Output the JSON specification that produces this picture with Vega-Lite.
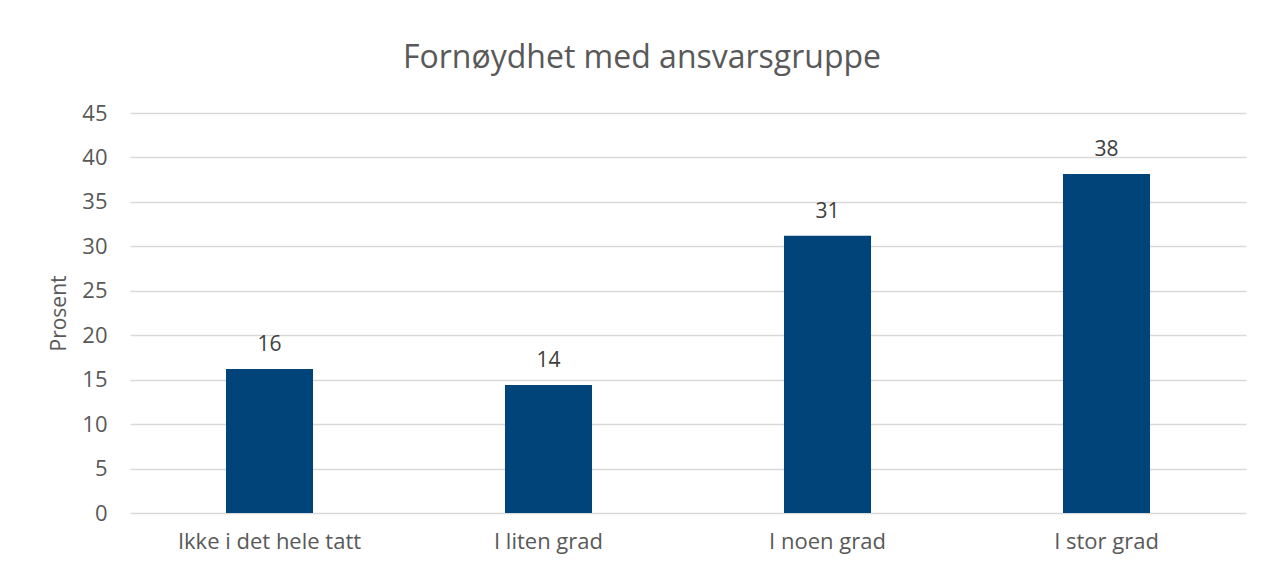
{
  "$schema": "https://vega.github.io/schema/vega-lite/v6.json",
  "width": 1116,
  "height": 400,
  "autosize": {"type": "none"},
  "padding": {"left": 130, "top": 113, "right": 17, "bottom": 56},
  "background": "white",
  "title": {
    "text": "Fornøydhet med ansvarsgruppe",
    "font": "Open Sans",
    "fontSize": 32,
    "fontWeight": "normal",
    "color": "#595959",
    "anchor": "middle",
    "baseline": "alphabetic",
    "dx": -46,
    "offset": 2
  },
  "data": {
    "values": [
      {"kategori": "Ikke i det hele tatt", "verdi": 16.2},
      {"kategori": "I liten grad", "verdi": 14.4},
      {"kategori": "I noen grad", "verdi": 31.2},
      {"kategori": "I stor grad", "verdi": 38.15}
    ]
  },
  "encoding": {
    "x": {
      "field": "kategori",
      "type": "nominal",
      "sort": null,
      "scale": {"paddingInner": 0.688, "paddingOuter": 0.344},
      "axis": {
        "title": null,
        "labelAngle": 0,
        "labelFont": "Open Sans",
        "labelFontSize": 22,
        "labelColor": "#595959",
        "labelPadding": 18,
        "labelLimit": 0,
        "ticks": false,
        "domain": false,
        "grid": false
      }
    },
    "y": {
      "field": "verdi",
      "type": "quantitative",
      "scale": {"domain": [0, 45], "nice": false},
      "axis": {
        "title": "Prosent",
        "titleFont": "Open Sans",
        "titleFontSize": 21,
        "titleFontWeight": "normal",
        "titleColor": "#595959",
        "titlePadding": 12,
        "values": [0, 5, 10, 15, 20, 25, 30, 35, 40, 45],
        "labelFont": "Open Sans",
        "labelFontSize": 22,
        "labelColor": "#595959",
        "labelPadding": 23,
        "ticks": false,
        "domain": false,
        "grid": true,
        "gridColor": "#d9d9d9",
        "gridWidth": 1.3
      }
    }
  },
  "layer": [
    {"mark": {"type": "bar", "color": "#004479"}},
    {
      "mark": {
        "type": "text",
        "baseline": "alphabetic",
        "dy": -18,
        "font": "Open Sans",
        "fontSize": 21,
        "color": "#404040"
      },
      "encoding": {"text": {"field": "verdi", "type": "quantitative", "format": ".0f"}}
    }
  ],
  "config": {"view": {"stroke": null}}
}
